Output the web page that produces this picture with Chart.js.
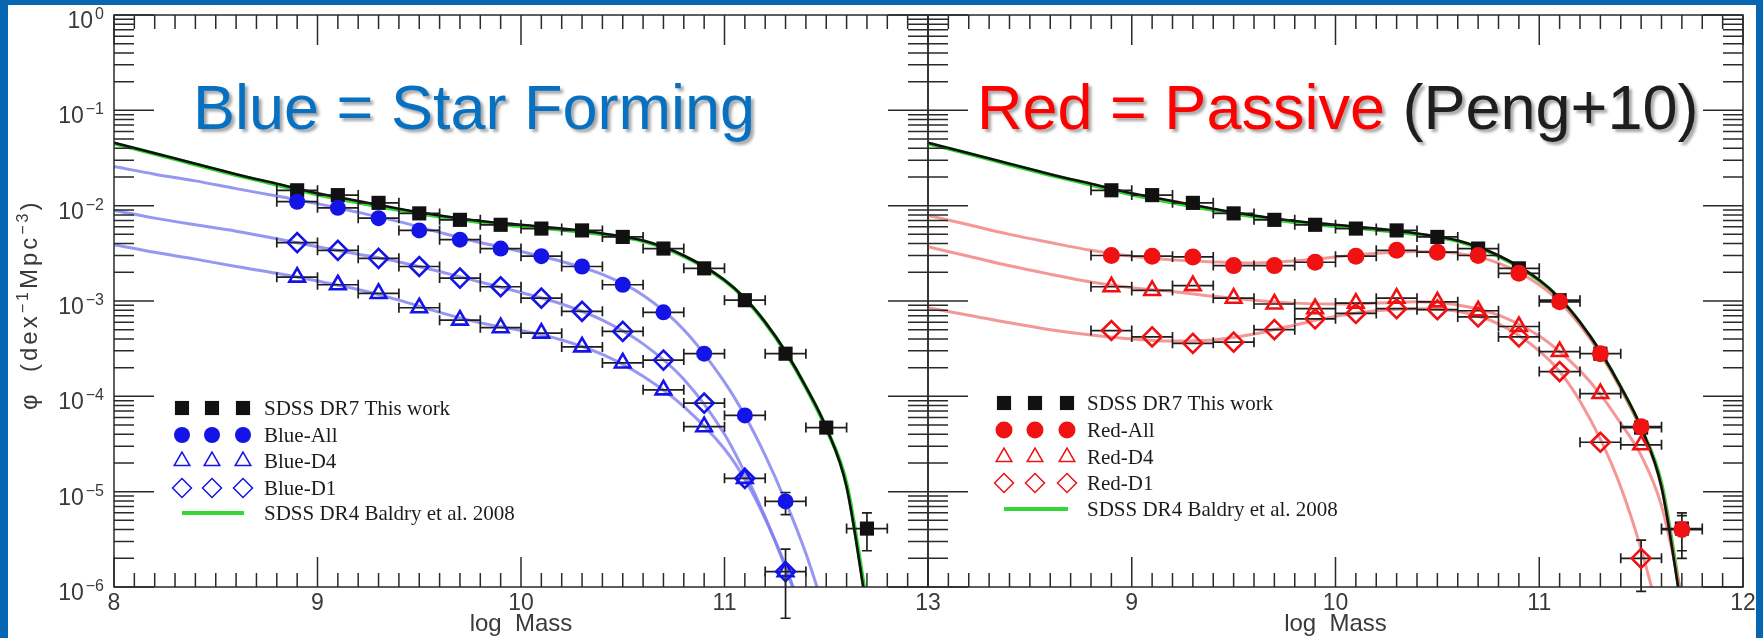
<!DOCTYPE html>
<html>
<head>
<meta charset="utf-8">
<script src="https://cdn.jsdelivr.net/npm/chart.js"></script>
<style>
  body { margin: 0; background: #0766b1; }
  #page { position: relative; width: 1763px; height: 638px; background: #0766b1; overflow: hidden; }
  #sheet { position: absolute; left: 8px; top: 5px; width: 1748px; height: 633px; background: #fff; }
  canvas { position: absolute; left: 0; top: 0; }
  .edge { position: absolute; top: 0; height: 638px; background: #0766b1; z-index: 5; }
  .title { position: absolute; top: 76px; z-index: 6; white-space: nowrap;
           font-family: "Liberation Sans", Arial, sans-serif; font-size: 63px; line-height: 63px;
           text-shadow: 3px 3px 3px rgba(0, 0, 0, 0.35); }
</style>
</head>
<body>
<div id="page">
  <div id="sheet"></div>
  <canvas id="leftChart" width="1763" height="638"></canvas>
  <canvas id="rightChart" width="1763" height="638"></canvas>
  <div class="edge" style="left:0;width:8px"></div>
  <div class="edge" style="left:1756px;width:7px"></div>
  <div class="title" style="left:193px;color:#0870c0">Blue = Star Forming</div>
  <div class="title" style="left:977px"><span style="color:#ff0000">Red = Passive</span> <span style="color:#1e1e1e">(Peng+10)</span></div>
</div>

<script>
  // stellar mass bins (log Mass), half width of each bin
  const massBins = [8.9, 9.1, 9.3, 9.5, 9.7, 9.9, 10.1, 10.3, 10.5, 10.7, 10.9, 11.1, 11.3, 11.5, 11.7];
  const massErr = 0.1;

  // measured mass functions, phi in dex^-1 Mpc^-3
  const sdssDR7 = [1.45e-2, 1.29e-2, 1.07e-2, 8.3e-3, 7.1e-3, 6.3e-3, 5.75e-3, 5.5e-3, 4.7e-3, 3.55e-3, 2.2e-3, 1.02e-3, 2.8e-4, 4.7e-5, 4.1e-6];
  const blueAll = [1.10e-2, 9.5e-3, 7.4e-3, 5.5e-3, 4.4e-3, 3.55e-3, 2.95e-3, 2.3e-3, 1.48e-3, 7.6e-4, 2.8e-4, 6.3e-5, 7.9e-6];
  const blueD4 = [1.78e-3, 1.48e-3, 1.2e-3, 8.5e-4, 6.3e-4, 5.25e-4, 4.6e-4, 3.3e-4, 2.24e-4, 1.17e-4, 4.8e-5, 1.38e-5, 1.45e-6];
  const blueD1 = [4.1e-3, 3.4e-3, 2.8e-3, 2.3e-3, 1.74e-3, 1.41e-3, 1.07e-3, 7.8e-4, 4.8e-4, 2.4e-4, 8.5e-5, 1.38e-5, 1.45e-6];
  const redAll = [3.0e-3, 2.95e-3, 2.9e-3, 2.35e-3, 2.35e-3, 2.55e-3, 2.95e-3, 3.4e-3, 3.25e-3, 3.0e-3, 1.95e-3, 9.8e-4, 2.8e-4, 4.8e-5, 4.0e-6];
  const redD4 = [1.41e-3, 1.29e-3, 1.45e-3, 1.07e-3, 9.3e-4, 8.3e-4, 9.5e-4, 1.07e-3, 9.8e-4, 7.9e-4, 5.4e-4, 2.95e-4, 1.07e-4, 3.1e-5];
  const redD1 = [4.9e-4, 4.2e-4, 3.6e-4, 3.7e-4, 5.0e-4, 6.5e-4, 7.4e-4, 8.3e-4, 8.1e-4, 6.8e-4, 4.2e-4, 1.82e-4, 3.3e-5, 2.0e-6];

  // vertical error bars [low, high] where they show
  const sdssDR7Err = [null, null, null, null, null, null, null, null, null, null, null, null, null, null, [2.4e-6, 6.0e-6]];
  const blueAllErr = [null, null, null, null, null, null, null, null, null, null, null, null, [5.75e-6, 9.8e-6]];
  const blueD4Err = [null, null, null, null, null, null, null, null, null, null, null, null, [4.7e-7, 2.5e-6]];
  const blueD1Err = [null, null, null, null, null, null, null, null, null, null, null, null, [4.7e-7, 2.5e-6]];
  const redAllErr = [null, null, null, null, null, null, null, null, null, null, null, null, null, null, [2.0e-6, 5.6e-6]];
  const redD1Err = [null, null, null, null, null, null, null, null, null, null, null, null, null, [9.0e-7, 3.1e-6]];

  // Schechter fits
  const fitMass = [8.0, 8.2, 8.4, 8.6, 8.8, 9.0, 9.2, 9.4, 9.6, 9.8, 10.0, 10.2, 10.4, 10.6, 10.8, 11.0, 11.1, 11.2, 11.3, 11.4, 11.5, 11.6, 11.7];
  const sdssDR7Fit = [4.57e-2, 3.55e-2, 2.75e-2, 2.14e-2, 1.70e-2, 1.35e-2, 1.12e-2, 9.3e-3, 7.9e-3, 6.9e-3, 6.3e-3, 5.75e-3, 5.1e-3, 4.3e-3, 3.0e-3, 1.66e-3, 1.07e-3, 6.0e-4, 2.95e-4, 1.26e-4, 4.7e-5, 1.12e-5, 5.6e-7];
  const baldryFit = [4.5e-2, 3.5e-2, 2.7e-2, 2.1e-2, 1.66e-2, 1.31e-2, 1.08e-2, 9.0e-3, 7.7e-3, 6.7e-3, 6.1e-3, 5.6e-3, 5.0e-3, 4.25e-3, 2.95e-3, 1.64e-3, 1.06e-3, 5.9e-4, 2.9e-4, 1.24e-4, 4.6e-5, 1.2e-5, 6.5e-7];
  const blueAllFit = [2.57e-2, 2.14e-2, 1.82e-2, 1.51e-2, 1.26e-2, 1.05e-2, 8.5e-3, 6.8e-3, 5.25e-3, 4.1e-3, 3.3e-3, 2.6e-3, 1.9e-3, 1.15e-3, 5.0e-4, 1.41e-4, 6.3e-5, 2.4e-5, 7.9e-6, 2.24e-6, 5.0e-7];
  const blueD1Fit = [8.9e-3, 7.4e-3, 6.3e-3, 5.4e-3, 4.5e-3, 3.7e-3, 3.1e-3, 2.57e-3, 2.04e-3, 1.58e-3, 1.23e-3, 9.3e-4, 6.3e-4, 3.55e-4, 1.51e-4, 4.0e-5, 1.58e-5, 5.4e-6, 1.58e-6, 4.0e-7];
  const blueD4Fit = [3.9e-3, 3.24e-3, 2.75e-3, 2.3e-3, 1.95e-3, 1.62e-3, 1.32e-3, 1.02e-3, 7.6e-4, 5.9e-4, 4.9e-4, 3.9e-4, 2.75e-4, 1.62e-4, 7.8e-5, 2.8e-5, 1.35e-5, 5.2e-6, 1.66e-6, 4.0e-7];
  const redAllFit = [7.9e-3, 6.3e-3, 5.0e-3, 4.1e-3, 3.4e-3, 2.95e-3, 2.7e-3, 2.57e-3, 2.5e-3, 2.63e-3, 2.9e-3, 3.16e-3, 3.3e-3, 3.16e-3, 2.5e-3, 1.48e-3, 9.8e-4, 5.6e-4, 2.8e-4, 1.2e-4, 4.5e-5, 1.12e-5, 6.3e-7];
  const redD4Fit = [3.7e-3, 2.95e-3, 2.34e-3, 1.91e-3, 1.58e-3, 1.38e-3, 1.26e-3, 1.12e-3, 1.02e-3, 9.5e-4, 9.3e-4, 9.5e-4, 9.8e-4, 9.1e-4, 7.1e-4, 4.3e-4, 2.95e-4, 1.86e-4, 1.05e-4, 5.2e-5, 2.4e-5, 7.1e-6, 7.9e-7];
  const redD1Fit = [8.5e-4, 7.1e-4, 5.9e-4, 5.0e-4, 4.4e-4, 4.0e-4, 3.8e-4, 3.9e-4, 4.5e-4, 5.6e-4, 6.9e-4, 7.9e-4, 8.3e-4, 7.8e-4, 5.75e-4, 3.0e-4, 1.82e-4, 8.9e-5, 3.55e-5, 1.12e-5, 2.5e-6, 4.0e-7];

  // axis labels
  const leftMassTicks = [8, 9, 10, 11, 12];
  const leftMassTickLabels = ['8', '9', '10', '11', '13'];
  const rightMassTicks = [9, 10, 11, 12];
  const rightMassTickLabels = ['9', '10', '11', '12'];
  const phiTicks = [1, 1e-1, 1e-2, 1e-3, 1e-4, 1e-5, 1e-6];
  const phiTickExponents = ['0', '\u22121', '\u22122', '\u22123', '\u22124', '\u22125', '\u22126'];
  const leftLegendLabels = ['SDSS DR7 This work', 'Blue-All', 'Blue-D4', 'Blue-D1', 'SDSS DR4 Baldry et al. 2008'];
  const rightLegendLabels = ['SDSS DR7 This work', 'Red-All', 'Red-D4', 'Red-D1', 'SDSS DR4 Baldry et al. 2008'];

  const BLUE = '#1414e6';
  const RED = '#f01212';
  const SANS = '"Liberation Sans", Arial, sans-serif';

  function pts(xs, ys) {
    return ys.map((v, i) => ({ x: xs[i], y: v }));
  }

  function fitLine(label, ys, color, width, order) {
    return { label: label, data: pts(fitMass, ys), borderColor: color, borderWidth: width,
             pointRadius: 0, showLine: true, fill: false, order: order, cubicInterpolationMode: 'monotone' };
  }

  function markers(label, ys, errs, style, radius, color, filled, order) {
    return { label: label, data: pts(massBins, ys), showLine: false, pointStyle: style, pointRadius: radius,
             backgroundColor: filled ? color : 'rgba(0,0,0,0)', borderColor: color,
             borderWidth: filled ? 0 : 2.6, order: order, xErr: massErr, yErr: errs };
  }

  // horizontal / vertical error bars, drawn once all fit lines are down
  const errorBarPlugin = {
    id: 'errorBars',
    afterDatasetDraw(chart, args) {
      if (!chart.data.datasets[args.index].errorBarsAfter) return;
      const { ctx, scales: { x, y } } = chart;
      ctx.save();
      ctx.strokeStyle = '#1e1e1e';
      ctx.lineWidth = 1.7;
      ctx.beginPath();
      chart.data.datasets.forEach(ds => {
        if (!ds.xErr) return;
        ds.data.forEach((p, i) => {
          const py = y.getPixelForValue(p.y);
          const px = x.getPixelForValue(p.x);
          const x0 = x.getPixelForValue(p.x - ds.xErr);
          const x1 = x.getPixelForValue(p.x + ds.xErr);
          ctx.moveTo(x0, py); ctx.lineTo(x1, py);
          ctx.moveTo(x0, py - 5); ctx.lineTo(x0, py + 5);
          ctx.moveTo(x1, py - 5); ctx.lineTo(x1, py + 5);
          const e = ds.yErr && ds.yErr[i];
          if (e) {
            const y0 = y.getPixelForValue(e[0]);
            const y1 = y.getPixelForValue(e[1]);
            ctx.moveTo(px, y0); ctx.lineTo(px, y1);
            ctx.moveTo(px - 5, y0); ctx.lineTo(px + 5, y0);
            ctx.moveTo(px - 5, y1); ctx.lineTo(px + 5, y1);
          }
        });
      });
      ctx.stroke();
      ctx.restore();
    }
  };

  // writes "10" with a raised exponent, right aligned
  function drawPower(ctx, exp, xRight, yTick) {
    ctx.font = '16px ' + SANS;
    const we = ctx.measureText(exp).width;
    ctx.font = '23px ' + SANS;
    const wb = ctx.measureText('10').width;
    ctx.textAlign = 'left';
    ctx.textBaseline = 'alphabetic';
    ctx.fillText('10', xRight - we - wb - 2, yTick + 13);
    ctx.font = '16px ' + SANS;
    ctx.fillText(exp, xRight - we, yTick + 4);
  }

  // box, inward ticks, tick labels, axis titles and the marker legend
  const framePlugin = {
    id: 'frame',
    afterDraw(chart, args, opts) {
      const { ctx, chartArea: a, scales: { x, y } } = chart;
      ctx.save();
      ctx.strokeStyle = '#2a2a2a';
      ctx.lineWidth = 1.5;
      ctx.strokeRect(a.left, a.top, a.right - a.left, a.bottom - a.top);
      ctx.beginPath();
      for (let i = 0; i <= 40; i++) {
        const px = x.getPixelForValue(8 + i / 10);
        const len = i % 10 === 0 ? 30 : 14;
        ctx.moveTo(px, a.bottom); ctx.lineTo(px, a.bottom - len);
        ctx.moveTo(px, a.top); ctx.lineTo(px, a.top + len);
      }
      for (let e = -6; e <= 0; e++) {
        for (let m = 1; m <= 9; m++) {
          if (e === 0 && m > 1) break;
          const py = y.getPixelForValue(m * Math.pow(10, e));
          const len = m === 1 ? 40 : 20;
          ctx.moveTo(a.left, py); ctx.lineTo(a.left + len, py);
          ctx.moveTo(a.right, py); ctx.lineTo(a.right - len, py);
        }
      }
      ctx.stroke();

      ctx.fillStyle = '#3a3a3a';
      ctx.font = '23px ' + SANS;
      ctx.textAlign = 'center';
      ctx.textBaseline = 'alphabetic';
      opts.xTicks.forEach((v, i) => {
        ctx.fillText(opts.xTickLabels[i], x.getPixelForValue(v), a.bottom + 23);
      });
      ctx.font = '24px ' + SANS;
      ctx.fillText('log  Mass', (a.left + a.right) / 2, a.bottom + 44);

      if (opts.yLabels) {
        phiTicks.forEach((v, i) => drawPower(ctx, phiTickExponents[i], a.left - 10, y.getPixelForValue(v)));
        // rotated title
        ctx.save();
        ctx.translate(37, 0);
        ctx.rotate(-Math.PI / 2);
        ctx.textAlign = 'left';
        ctx.font = '24px ' + SANS;
        ctx.fillText('\u03c6', -410, 0);
        ctx.letterSpacing = '3px';
        let pos = -372;
        [['(dex', 0, 24], ['\u22121', -9, 16], ['Mpc', 0, 24], ['\u22123', -9, 16], [')', 0, 24]].forEach(seg => {
          ctx.font = seg[2] + 'px ' + SANS;
          ctx.fillText(seg[0], pos, seg[1]);
          pos += ctx.measureText(seg[0]).width;
        });
        ctx.restore();
      }

      const lg = opts.legend;
      ctx.font = '21px "Liberation Serif", "Times New Roman", serif';
      ctx.textAlign = 'left';
      lg.labels.forEach((label, r) => {
        const ds = chart.data.datasets.find(d => d.label === label);
        const yy = lg.rowY[r];
        if (ds.showLine) {
          ctx.strokeStyle = ds.borderColor;
          ctx.lineWidth = 4;
          ctx.beginPath();
          ctx.moveTo(lg.markerX[0], yy);
          ctx.lineTo(lg.markerX[2] + 1, yy);
          ctx.stroke();
        } else {
          lg.markerX.forEach(mx => {
            ctx.fillStyle = ds.backgroundColor;
            ctx.strokeStyle = ds.borderColor;
            Chart.helpers.drawPoint(ctx, { pointStyle: ds.pointStyle, radius: ds.pointRadius,
              rotation: 0, borderWidth: ds.borderWidth }, mx, yy);
          });
        }
        ctx.fillStyle = '#1c1c1c';
        ctx.fillText(label, lg.textX, yy + 7);
      });
      ctx.restore();
    }
  };

  function buildOptions(padding, frame) {
    return {
      responsive: false,
      animation: false,
      devicePixelRatio: 1,
      layout: { padding: padding },
      scales: {
        x: { type: 'linear', min: 8, max: 12, display: false },
        y: { type: 'logarithmic', min: 1e-6, max: 1, display: false }
      },
      plugins: { legend: { display: false }, tooltip: { enabled: false }, frame: frame }
    };
  }

  const blackFit = fitLine('SDSS DR7 fit', sdssDR7Fit, '#111111', 2.6, 30);
  blackFit.errorBarsAfter = true;
  const blackFitR = fitLine('SDSS DR7 fit', sdssDR7Fit, '#111111', 2.6, 30);
  blackFitR.errorBarsAfter = true;

  new Chart(document.getElementById('leftChart'), {
    type: 'line',
    data: {
      datasets: [
        markers('Blue-D4', blueD4, blueD4Err, 'triangle', 9, BLUE, false, 11),
        markers('Blue-D1', blueD1, blueD1Err, 'rectRot', 9.5, BLUE, false, 12),
        markers('Blue-All', blueAll, blueAllErr, 'circle', 8, BLUE, true, 13),
        markers('SDSS DR7 This work', sdssDR7, sdssDR7Err, 'rect', 10, '#111111', true, 20),
        blackFit,
        fitLine('Blue-All fit', blueAllFit, 'rgba(125,125,240,0.8)', 3, 40),
        fitLine('Blue-D1 fit', blueD1Fit, 'rgba(125,125,240,0.8)', 3, 41),
        fitLine('Blue-D4 fit', blueD4Fit, 'rgba(125,125,240,0.8)', 3, 42),
        fitLine('SDSS DR4 Baldry et al. 2008', baldryFit, '#33d633', 4, 50)
      ]
    },
    options: buildOptions({ left: 114, right: 835, top: 15, bottom: 51 }, {
      xTicks: leftMassTicks, xTickLabels: leftMassTickLabels, yLabels: true,
      legend: { labels: leftLegendLabels, markerX: [182, 212, 243], rowY: [408, 435, 461, 488, 513], textX: 264 }
    }),
    plugins: [errorBarPlugin, framePlugin]
  });

  new Chart(document.getElementById('rightChart'), {
    type: 'line',
    data: {
      datasets: [
        markers('Red-D4', redD4, null, 'triangle', 9, RED, false, 11),
        markers('Red-D1', redD1, redD1Err, 'rectRot', 9.5, RED, false, 12),
        markers('Red-All', redAll, redAllErr, 'circle', 8.5, RED, true, 13),
        markers('SDSS DR7 This work', sdssDR7, sdssDR7Err, 'rect', 10, '#111111', true, 20),
        blackFitR,
        fitLine('Red-All fit', redAllFit, 'rgba(240,125,125,0.8)', 3, 40),
        fitLine('Red-D4 fit', redD4Fit, 'rgba(240,125,125,0.8)', 3, 41),
        fitLine('Red-D1 fit', redD1Fit, 'rgba(240,125,125,0.8)', 3, 42),
        fitLine('SDSS DR4 Baldry et al. 2008', baldryFit, '#33d633', 4, 50)
      ]
    },
    options: buildOptions({ left: 928, right: 20, top: 15, bottom: 51 }, {
      xTicks: rightMassTicks, xTickLabels: rightMassTickLabels, yLabels: false,
      legend: { labels: rightLegendLabels, markerX: [1004, 1035, 1067], rowY: [403, 430, 457, 483, 509], textX: 1087 }
    }),
    plugins: [errorBarPlugin, framePlugin]
  });
</script>
</body>
</html>
